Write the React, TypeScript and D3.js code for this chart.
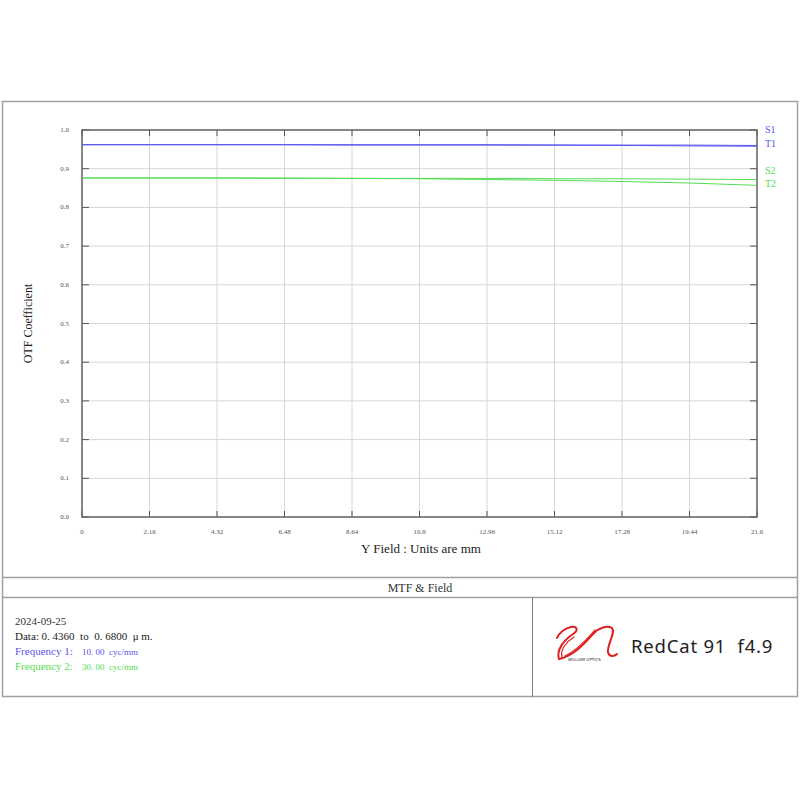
import React from "react";
import * as d3 from "d3";

const fieldTicks = [0, 2.16, 4.32, 6.48, 8.64, 10.8, 12.96, 15.12, 17.28, 19.44, 21.6];
const yTicks = [0, 0.1, 0.2, 0.3, 0.4, 0.5, 0.6, 0.7, 0.8, 0.9, 1.0];
const s1Values = [0.962, 0.962, 0.962, 0.962, 0.962, 0.962, 0.962, 0.961, 0.961, 0.961, 0.960];
const t1Values = [0.962, 0.962, 0.962, 0.962, 0.961, 0.961, 0.961, 0.961, 0.960, 0.959, 0.958];
const s2Values = [0.876, 0.876, 0.876, 0.876, 0.875, 0.875, 0.875, 0.874, 0.874, 0.873, 0.872];
const t2Values = [0.876, 0.876, 0.876, 0.875, 0.875, 0.874, 0.872, 0.870, 0.867, 0.863, 0.857];
const seriesNames = ["S1", "T1", "S2", "T2"];

const BLUE = "#5a55ee";
const GREEN = "#55dd55";

export default function App() {
  const L = 82, R = 757, T = 130, B = 517;
  const x = d3.scaleLinear().domain([0, 21.6]).range([L, R]);
  const y = d3.scaleLinear().domain([0, 1]).range([B, T]);
  const line = d3.line<number>().x((_, i) => x(fieldTicks[i])).y((d) => y(d));
  const series = [
    { name: seriesNames[0], vals: s1Values, color: BLUE, ly: 133 },
    { name: seriesNames[1], vals: t1Values, color: BLUE, ly: 147 },
    { name: seriesNames[2], vals: s2Values, color: GREEN, ly: 174 },
    { name: seriesNames[3], vals: t2Values, color: GREEN, ly: 187 },
  ];
  const fmtY = (v: number) => v.toFixed(1);
  const serif = "'Liberation Serif', 'DejaVu Serif', serif";
  const pre = { whiteSpace: "pre" as const };
  return (
    <svg width={800} height={800} style={{ position: "absolute", left: 0, top: 0, background: "#fff" }} fontFamily={serif}>
      <rect x={0} y={0} width={800} height={800} fill="#fff" />
      {/* outer frame */}
      <rect x={2.5} y={101.5} width={795} height={595} fill="none" stroke="#a0a0a0" strokeWidth={1.5} />
      <line x1={2} x2={798} y1={577.5} y2={577.5} stroke="#a0a0a0" strokeWidth={1.5} />
      <line x1={2} x2={798} y1={597.5} y2={597.5} stroke="#a0a0a0" strokeWidth={1.5} />
      <line x1={532.5} x2={532.5} y1={597} y2={697} stroke="#808080" strokeWidth={1} />

      {/* grid */}
      {fieldTicks.map((t, i) => (
        <line key={"gx" + i} x1={x(t)} x2={x(t)} y1={T} y2={B} stroke="#d6d6d6" strokeWidth={1} />
      ))}
      {yTicks.map((t, i) => (
        <line key={"gy" + i} x1={L} x2={R} y1={y(t)} y2={y(t)} stroke="#d6d6d6" strokeWidth={1} />
      ))}
      {/* tick marks */}
      {fieldTicks.map((t, i) => (
        <g key={"tx" + i}>
          <line x1={x(t)} x2={x(t)} y1={B} y2={B - 6} stroke="#555" />
          <line x1={x(t)} x2={x(t)} y1={T} y2={T + 6} stroke="#555" />
        </g>
      ))}
      {yTicks.map((t, i) => (
        <g key={"ty" + i}>
          <line x1={L} x2={L + 7} y1={y(t)} y2={y(t)} stroke="#555" />
          <line x1={R} x2={R - 7} y1={y(t)} y2={y(t)} stroke="#555" />
        </g>
      ))}
      <rect x={L} y={T} width={R - L} height={B - T} fill="none" stroke="#666" strokeWidth={1.5} />

      {/* tick labels */}
      {fieldTicks.map((t, i) => (
        <text key={"lx" + i} x={x(t)} y={534} fontSize={7} textAnchor="middle" fill="#555">{String(t)}</text>
      ))}
      {yTicks.map((t, i) => (
        <text key={"ly" + i} x={69} y={y(t) + 2} fontSize={7} textAnchor="end" fill="#555">{fmtY(t)}</text>
      ))}

      {/* series */}
      {series.map((s) => (
        <path key={s.name} d={line(s.vals) || ""} fill="none" stroke={s.color} strokeWidth={1} />
      ))}
      {series.map((s) => (
        <text key={"n" + s.name} x={765} y={s.ly} fontSize={10} fill={s.color}>{s.name}</text>
      ))}

      {/* axis titles */}
      <text x={421} y={553} fontSize={13} textAnchor="middle" fill="#222">Y Field : Units are mm</text>
      <text transform={`translate(32,${(T + B) / 2}) rotate(-90)`} fontSize={12} textAnchor="middle" fill="#222">OTF Coefficient</text>

      {/* footer */}
      <text x={420} y={592} fontSize={12} textAnchor="middle" fill="#333">MTF &amp; Field</text>
      <text x={15} y={625} fontSize={11} fill="#333">2024-09-25</text>
      <text x={15} y={640} fontSize={11} fill="#222" style={pre}>{"Data: 0. 4360  to  0. 6800  μ m."}</text>
      <text x={15} y={655} fontSize={11} fill={BLUE} style={pre}>{"Frequency 1:"}<tspan x={82} fontSize={9}>{"10. 00  cyc/mm"}</tspan></text>
      <text x={15} y={670} fontSize={11} fill={GREEN} style={pre}>{"Frequency 2:"}<tspan x={82} fontSize={9}>{"30. 00  cyc/mm"}</tspan></text>

      {/* logo */}
      <g fill="none" stroke="#e02020" strokeWidth={2} strokeLinecap="round" strokeLinejoin="round">
        <path d="M559,659 C556,650 564,640 573,634 C579,630 577,626 571,627 C565,628 559,633 557,638" />
        <path d="M562,657 C560,650 566,642 574,637" strokeWidth={1.2} />
        <path d="M559,659 C574,656 586,642 594,633 C599,628 607,625 612,628 C616,632 607,645 608,652 C609,657 614,657 617,654" />
        <path d="M565,656 C578,650 588,638 595,630" strokeWidth={1.2} />
      </g>
      <text x={568} y={661} fontSize={4} fontFamily="'DejaVu Sans', sans-serif" fill="#333">WILLIAM OPTICS</text>
      <text x={631} y={653} fontSize={18.5} fontFamily="'Noto Sans', sans-serif" letterSpacing={0.8} fill="#222" style={pre}>{"RedCat 91  f4.9"}</text>
    </svg>
  );
}
